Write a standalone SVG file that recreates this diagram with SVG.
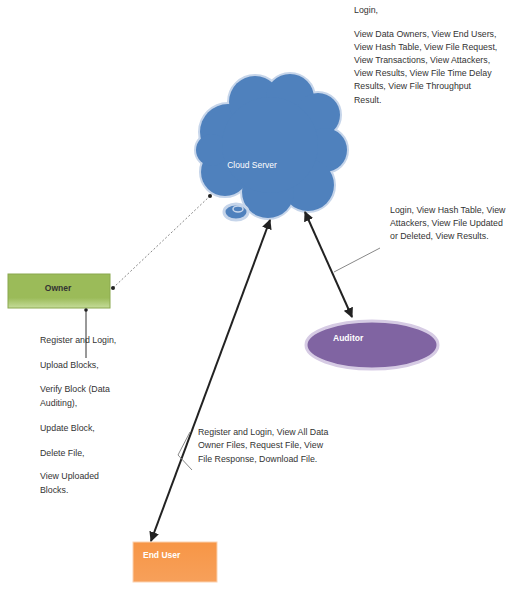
<svg xmlns="http://www.w3.org/2000/svg" width="511" height="590" viewBox="0 0 511 590">
<style>
.t{font-family:"Liberation Sans",Arial,sans-serif;font-size:8.8px;fill:#333}
.w{font-family:"Liberation Sans",Arial,sans-serif;font-size:8.5px;fill:#fff}
.conn{stroke:#222;stroke-width:2;fill:none}
.thin{stroke:#888;stroke-width:1;fill:none}
</style>
<defs>
<marker id="ah" viewBox="0 0 10 10" refX="9" refY="5" markerWidth="5" markerHeight="5" orient="auto-start-reverse"><path d="M0,0 L10,5 L0,10 z" fill="#222"/></marker>
<linearGradient id="gg" x1="0" y1="0" x2="0" y2="1"><stop offset="0" stop-color="#9bbb59"/><stop offset="0.7" stop-color="#9bbb59"/><stop offset="1" stop-color="#c5dc9a"/></linearGradient>
<linearGradient id="og" x1="0" y1="0" x2="0" y2="1"><stop offset="0" stop-color="#f79646"/><stop offset="1" stop-color="#f7a05a"/></linearGradient>
</defs>
<rect width="511" height="590" fill="#fff"/>

<g id="cloud">
<g fill="#4f81bd" stroke="#c6d5ea" stroke-width="4">
<circle cx="228" cy="132" r="28"/><circle cx="255" cy="102" r="26"/><circle cx="290" cy="98" r="24"/><circle cx="318" cy="115" r="22"/><circle cx="325" cy="150" r="22"/><circle cx="308" cy="185" r="26"/><circle cx="268" cy="192" r="26"/><circle cx="225" cy="172" r="24"/><circle cx="212" cy="150" r="16"/>
</g>
<g fill="#4f81bd">
<circle cx="228" cy="132" r="28"/><circle cx="255" cy="102" r="26"/><circle cx="290" cy="98" r="24"/><circle cx="318" cy="115" r="22"/><circle cx="325" cy="150" r="22"/><circle cx="308" cy="185" r="26"/><circle cx="268" cy="192" r="26"/><circle cx="225" cy="172" r="24"/><circle cx="212" cy="150" r="16"/><circle cx="270" cy="145" r="48"/>
</g>
<ellipse cx="236" cy="212" rx="12" ry="8" fill="#4f81bd" stroke="#c6d5ea" stroke-width="3"/>
<ellipse cx="238" cy="209" rx="5" ry="3" fill="none" stroke="#c6d5ea" stroke-width="1.5"/>
<text class="w" x="252" y="168" text-anchor="middle">Cloud Server</text>
</g>

<g id="owner">
<rect x="8" y="274" width="102" height="34" fill="url(#gg)" stroke="#8aa84e" stroke-width="1"/>
<text x="58" y="291" text-anchor="middle" style="font-family:'Liberation Sans',Arial,sans-serif;font-size:8.5px;font-weight:bold;fill:#333">Owner</text>
</g>

<g id="auditor">
<ellipse cx="372" cy="345" rx="66" ry="24" fill="#8064a2" stroke="#d6cbe4" stroke-width="3"/>
<text class="w" x="333" y="341" font-weight="bold">Auditor</text>
</g>

<g id="enduser">
<rect x="133" y="542" width="84" height="40" fill="url(#og)" stroke="#fbd2b0" stroke-width="1"/>
<text class="w" x="143" y="558" font-weight="bold">End User</text>
</g>

<g id="connectors">
<line x1="113" y1="288" x2="210" y2="196" stroke="#888" stroke-width="1" stroke-dasharray="2,2"/>
<circle cx="113" cy="288" r="2" fill="#222"/>
<circle cx="210" cy="196" r="2" fill="#222"/>
<line x1="86" y1="310" x2="86" y2="358" stroke="#333" stroke-width="1"/>
<circle cx="86" cy="310" r="1.8" fill="#222"/>
<line class="conn" x1="305" y1="212" x2="352" y2="317" marker-start="url(#ah)" marker-end="url(#ah)"/>
<line class="conn" x1="270" y1="220" x2="151" y2="541" marker-start="url(#ah)" marker-end="url(#ah)"/>
<polyline class="thin" points="380,248 334,272"/>
<polyline class="thin" points="190,432 178,455 192,470"/>
</g>

<g id="labels">
<text class="t" x="354" y="13">Login,</text>
<text class="t" x="354" y="37">View Data Owners, View End Users,</text>
<text class="t" x="354" y="50">View Hash Table, View File Request,</text>
<text class="t" x="354" y="63">View Transactions, View Attackers,</text>
<text class="t" x="354" y="76">View Results, View File Time Delay</text>
<text class="t" x="354" y="89">Results, View File Throughput</text>
<text class="t" x="354" y="103">Result.</text>

<text class="t" x="390" y="213">Login, View Hash Table, View</text>
<text class="t" x="390" y="226">Attackers,  View File Updated</text>
<text class="t" x="390" y="239">or Deleted,  View Results.</text>

<text class="t" x="40" y="343">Register and Login,</text>
<text class="t" x="40" y="368">Upload Blocks,</text>
<text class="t" x="40" y="392">Verify Block (Data</text>
<text class="t" x="40" y="406">Auditing),</text>
<text class="t" x="40" y="431">Update Block,</text>
<text class="t" x="40" y="456">Delete File,</text>
<text class="t" x="40" y="479">View Uploaded</text>
<text class="t" x="40" y="493">Blocks.</text>

<text class="t" x="198" y="435">Register and Login, View All Data</text>
<text class="t" x="198" y="448">Owner Files, Request File, View</text>
<text class="t" x="198" y="462">File Response, Download File.</text>
</g>
</svg>
